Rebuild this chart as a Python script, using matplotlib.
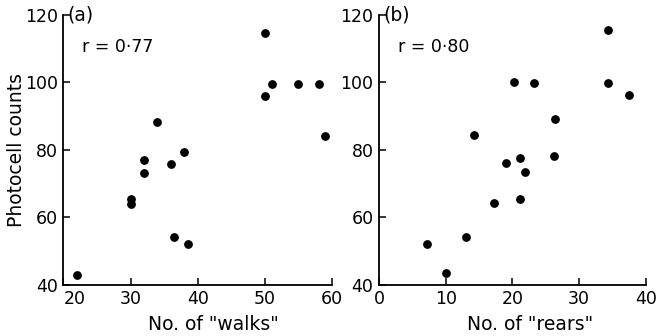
import matplotlib.pyplot as plt

# panel (a): walks vs photocell counts
walks = [22, 30, 30, 32, 32, 34, 36, 38, 36.5, 38.5, 50, 50, 51, 55, 58, 59]
walks_counts = [43, 65.4, 64, 77, 73, 88.3, 75.8, 79.3, 54.2, 52, 114.6, 96, 99.6, 99.6, 99.6, 84.2]

# panel (b): rears vs photocell counts
rears = [7.2, 10, 13, 14.3, 17.2, 19.1, 20.2, 21.2, 21.2, 21.9, 23.2, 26.3, 26.4, 34.4, 34.4, 37.5]
rears_counts = [52.1, 43.5, 54.2, 84.5, 64.4, 76.2, 100, 77.5, 65.5, 73.5, 99.7, 78.3, 89.1, 115.4, 99.7, 96.3]

walks_ticks = [20, 30, 40, 50, 60]
rears_ticks = [0, 10, 20, 30, 40]
count_ticks = [40, 60, 80, 100, 120]

plt.rcParams['font.family'] = 'DejaVu Sans'
fig = plt.figure(figsize=(6.57, 3.36), dpi=100)
ax1 = fig.add_axes([0.0964, 0.152, 0.409, 0.804])
ax2 = fig.add_axes([0.577, 0.152, 0.406, 0.804])


def style(ax, xticks, xlabel, tag, rtext, label_x):
    ax.set_xlim(xticks[0], xticks[-1])
    ax.set_ylim(40, 120)
    ax.set_xticks(xticks)
    ax.set_yticks(count_ticks)
    for s in ['top', 'right']:
        ax.spines[s].set_visible(False)
    for s in ['left', 'bottom']:
        ax.spines[s].set_linewidth(1.3)
    ax.tick_params(direction='in', length=5, width=1.1, labelsize=12.5, pad=4)
    ax.set_xlabel(xlabel, fontsize=13.5, labelpad=0)
    ax.xaxis.set_label_coords(label_x, -0.11)
    ax.text(0.015, 1.0, tag, transform=ax.transAxes, fontsize=13.5, va='center', ha='left')
    ax.text(0.07, 0.88, rtext, transform=ax.transAxes, fontsize=12.5, va='center', ha='left')


ax1.scatter(walks, walks_counts, s=28, color='black', zorder=3, clip_on=False)
ax2.scatter(rears, rears_counts, s=28, color='black', zorder=3, clip_on=False)

style(ax1, walks_ticks, 'No. of "walks"', '(a)', 'r = 0·77', 0.56)
style(ax2, rears_ticks, 'No. of "rears"', '(b)', 'r = 0·80', 0.565)
ax1.set_ylabel('Photocell counts', fontsize=13.5)
ax1.yaxis.set_label_coords(-0.14, 0.5)

# first walks label sits to the right of the corner
ax1.get_xticklabels()[0].set_horizontalalignment('left')

fig.savefig('out.png', dpi=100)
